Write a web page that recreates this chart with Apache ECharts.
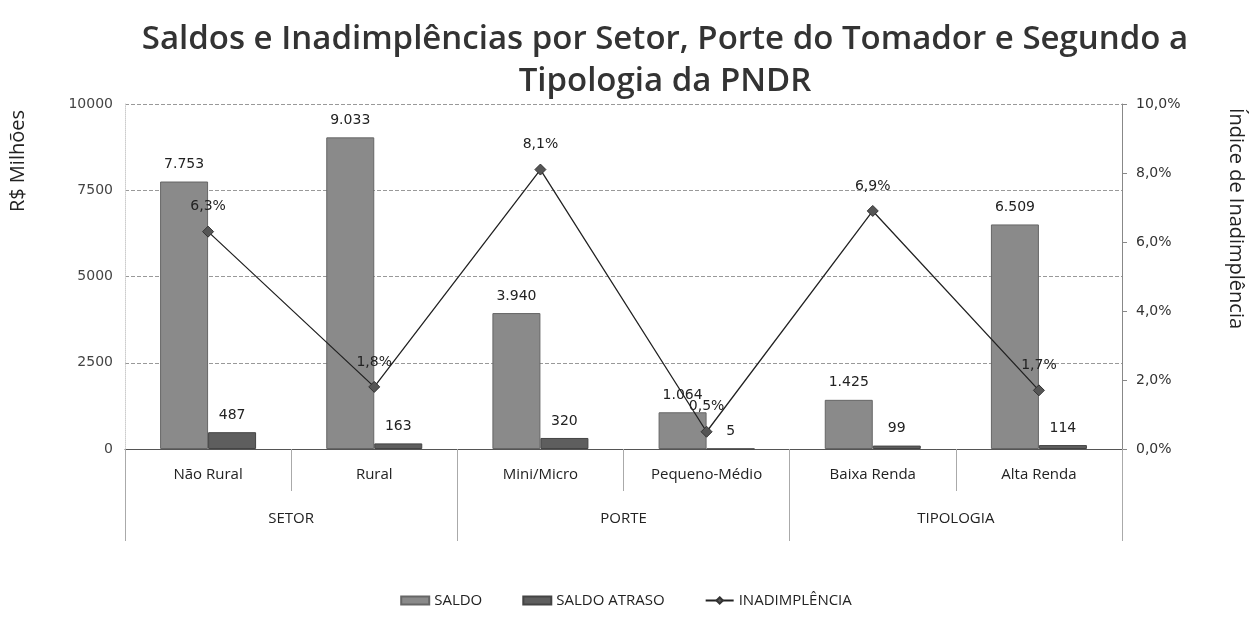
<!DOCTYPE html>
<html>
<head>
<meta charset="utf-8">
<script src="https://cdn.jsdelivr.net/npm/echarts@6/dist/echarts.min.js"></script>
<style>
  html, body { margin: 0; padding: 0; background: #fff; }
  #chart { width: 1252px; height: 619px; }
</style>
</head>
<body>
<div id="chart"></div>
<script>
// categories and groups
const categories = ['Não Rural', 'Rural', 'Mini/Micro', 'Pequeno-Médio', 'Baixa Renda', 'Alta Renda'];
const groups = ['SETOR', 'PORTE', 'TIPOLOGIA'];

// series values (R$ milhões and %)
const saldo = [7753, 9033, 3940, 1064, 1425, 6509];
const saldoAtraso = [487, 163, 320, 5, 99, 114];
const inadimplencia = [6.3, 1.8, 8.1, 0.5, 6.9, 1.7];

const fmtThousands = v => String(v).replace(/\B(?=(\d{3})+(?!\d))/g, '.');
const fmtPct = v => v.toFixed(1).replace('.', ',') + '%';

const labelFont = 'DejaVu Sans, Verdana, sans-serif';
const catFont = 'Open Sans, Noto Sans, sans-serif';

const chart = echarts.init(document.getElementById('chart'));

chart.setOption({
  animation: false,
  title: {
    text: 'Saldos e Inadimplências por Setor, Porte do Tomador e Segundo a\nTipologia da PNDR',
    left: 660,
    textAlign: 'center',
    top: 14,
    textStyle: {
      fontFamily: catFont,
      fontWeight: 600,
      fontSize: 33,
      lineHeight: 42,
      color: '#333'
    }
  },
  legend: {
    bottom: 6,
    left: 'center',
    itemGap: 40,
    itemWidth: 28,
    itemHeight: 8,
    textStyle: { fontFamily: catFont, fontSize: 15, color: '#222' },
    data: [
      { name: 'SALDO', icon: 'rect' },
      { name: 'SALDO ATRASO', icon: 'rect' },
      { name: 'INADIMPLÊNCIA' }
    ]
  },
  grid: { left: 125, right: 130, top: 104, bottom: 170 },
  xAxis: [
    {
      type: 'category',
      data: categories,
      axisLine: { lineStyle: { color: '#555', width: 1 } },
      axisTick: { show: true, interval: 0, length: 42, lineStyle: { color: '#aaa' } },
      axisLabel: { interval: 0, margin: 18, fontFamily: catFont, fontSize: 15, color: '#222' }
    },
    {
      type: 'category',
      data: groups,
      position: 'bottom',
      axisLine: { show: false },
      axisTick: { show: true, interval: 0, length: 92, lineStyle: { color: '#aaa' } },
      axisLabel: { interval: 0, margin: 62, fontFamily: catFont, fontSize: 15, color: '#222' }
    }
  ],
  yAxis: [
    {
      type: 'value',
      min: 0,
      max: 10000,
      interval: 2500,
      axisLine: { show: true, lineStyle: { color: '#ccc', type: 'dotted' } },
      axisTick: { show: false },
      splitLine: { lineStyle: { color: '#999', type: 'dashed' } },
      axisLabel: { formatter: v => String(v), fontFamily: labelFont, fontSize: 14, color: '#444', margin: 12 }
    },
    {
      type: 'value',
      min: 0,
      max: 10,
      interval: 2,
      axisLine: { show: true, lineStyle: { color: '#888' } },
      axisTick: { show: true, length: 5, lineStyle: { color: '#888' } },
      splitLine: { show: false },
      axisLabel: { formatter: fmtPct, fontFamily: labelFont, fontSize: 14, color: '#333', margin: 14 }
    }
  ],
  graphic: [
    {
      type: 'text',
      left: 8,
      top: 110,
      rotation: Math.PI / 2,
      style: { text: 'R$ Milhões', fontFamily: catFont, fontSize: 20, fill: '#222' }
    },
    {
      type: 'text',
      left: 1226,
      top: 108,
      rotation: -Math.PI / 2,
      style: { text: 'Índice de Inadimplência', fontFamily: catFont, fontSize: 20, fill: '#222' }
    }
  ],
  series: [
    {
      name: 'SALDO',
      type: 'bar',
      data: saldo,
      barWidth: 48,
      barGap: '0%',
      itemStyle: { color: '#8a8a8a', borderColor: '#666', borderWidth: 1 },
      label: {
        show: true, position: 'top', distance: 10,
        formatter: p => fmtThousands(p.value),
        fontFamily: labelFont, fontSize: 14, color: '#222'
      }
    },
    {
      name: 'SALDO ATRASO',
      type: 'bar',
      data: saldoAtraso,
      barWidth: 48,
      barGap: '0%',
      itemStyle: { color: '#5e5e5e', borderColor: '#444', borderWidth: 1 },
      label: {
        show: true, position: 'top', distance: 10,
        formatter: p => fmtThousands(p.value),
        fontFamily: labelFont, fontSize: 14, color: '#222'
      }
    },
    {
      name: 'INADIMPLÊNCIA',
      type: 'line',
      yAxisIndex: 1,
      data: inadimplencia,
      symbol: 'diamond',
      symbolSize: 11,
      lineStyle: { color: '#222', width: 1.3 },
      itemStyle: { color: '#555', borderColor: '#333', borderWidth: 1 },
      label: {
        show: true, position: 'top', distance: 12,
        formatter: p => fmtPct(p.value),
        fontFamily: labelFont, fontSize: 14, color: '#222'
      },
      z: 5
    }
  ]
});
</script>
</body>
</html>
